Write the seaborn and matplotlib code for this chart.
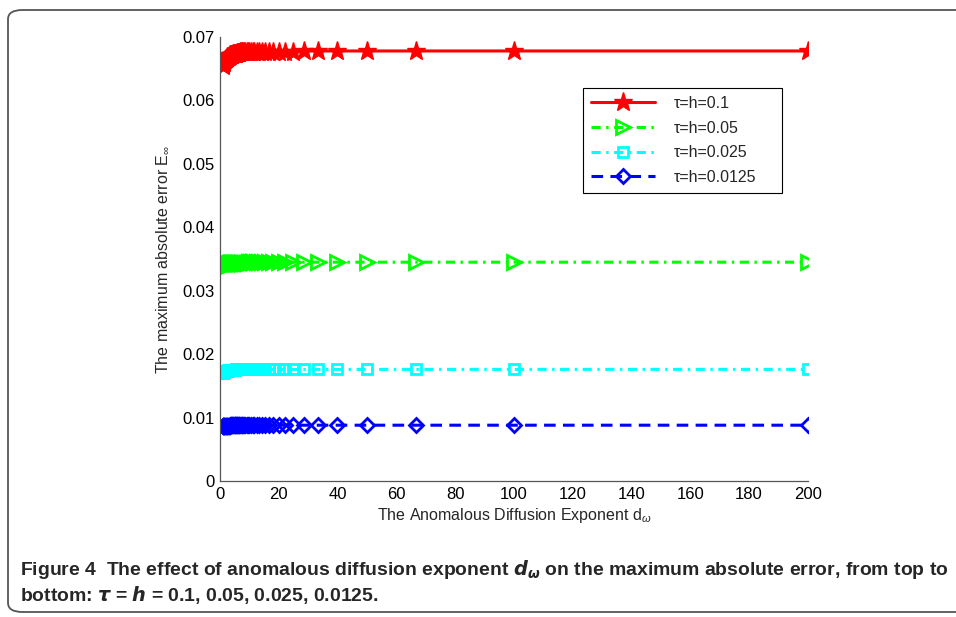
import matplotlib
matplotlib.use("Agg")
import matplotlib.pyplot as plt
import seaborn as sns
import pandas as pd
from matplotlib.patches import FancyBboxPatch

# ---------------- data ----------------
d_omega = [1.0, 1.05, 1.11, 1.18, 1.25, 1.33, 1.43, 1.54, 1.67, 1.82,
           2.0, 2.08, 2.17, 2.27, 2.38, 2.5, 2.63, 2.78, 2.94,
           3.13, 3.33, 3.45, 3.57, 3.70, 3.85,
           4.0, 4.17, 4.35, 4.55, 4.76,
           5.0, 5.13, 5.26, 5.41, 5.56, 5.71, 5.88,
           6.06, 6.25, 6.45, 6.67, 6.90,
           7.14, 7.41, 7.69,
           8.0, 8.33, 8.70,
           9.09, 9.52,
           10.0, 10.53, 11.11, 11.76, 12.5, 13.33, 14.29, 15.38, 16.67, 18.18,
           20.0, 22.22, 25.0, 28.57, 33.33, 40.0, 50.0, 66.67, 100.0, 200.0]

err_h0100 = [0.0655, 0.0656, 0.0657, 0.0658, 0.0659, 0.0660, 0.0661, 0.0662, 0.0663, 0.0664,
             0.0665, 0.0666, 0.0666, 0.0667, 0.0667, 0.0668, 0.0668, 0.0669, 0.0669,
             0.0670, 0.0670, 0.0671, 0.0671, 0.0671, 0.0672,
             0.0672, 0.0672, 0.0673, 0.0673, 0.0673,
             0.0674, 0.0674, 0.0674, 0.0674, 0.0674, 0.0675, 0.0675,
             0.0675, 0.0675, 0.0675, 0.0675, 0.0676,
             0.0676, 0.0676, 0.0676,
             0.0676, 0.0676, 0.0676,
             0.0677, 0.0677,
             0.0677, 0.0677, 0.0677, 0.0677, 0.0677, 0.0677, 0.0677, 0.0677, 0.0677, 0.0677,
             0.0677, 0.0677, 0.0677, 0.0678, 0.0678, 0.0678, 0.0678, 0.0678, 0.0678, 0.0678]

err_h0050 = [0.0336, 0.0336, 0.0337, 0.0337, 0.0337, 0.0338, 0.0338, 0.0338, 0.0339, 0.0339,
             0.0340, 0.0340, 0.0340, 0.0341, 0.0341, 0.0341, 0.0341, 0.0342, 0.0342,
             0.0342, 0.0342, 0.0342, 0.0343, 0.0343, 0.0343,
             0.0343, 0.0343, 0.0343, 0.0344, 0.0344,
             0.0344, 0.0344, 0.0344, 0.0344, 0.0344, 0.0344, 0.0344,
             0.0344, 0.0344, 0.0344, 0.0344, 0.0344,
             0.0344, 0.0344, 0.0344,
             0.0344, 0.0344, 0.0344,
             0.0344, 0.0344,
             0.0345, 0.0345, 0.0345, 0.0345, 0.0345, 0.0345, 0.0345, 0.0345, 0.0345, 0.0345,
             0.0345, 0.0345, 0.0345, 0.0345, 0.0345, 0.0345, 0.0345, 0.0345, 0.0345, 0.0345]

err_h0025 = [0.0171, 0.0171, 0.0171, 0.0172, 0.0172, 0.0172, 0.0172, 0.0173, 0.0173, 0.0173,
             0.0173, 0.0174, 0.0174, 0.0174, 0.0174, 0.0174, 0.0174, 0.0175, 0.0175,
             0.0175, 0.0175, 0.0175, 0.0175, 0.0175, 0.0175,
             0.0175, 0.0175, 0.0175, 0.0175, 0.0175,
             0.0175, 0.0175, 0.0175, 0.0176, 0.0176, 0.0176, 0.0176,
             0.0176, 0.0176, 0.0176, 0.0176, 0.0176,
             0.0176, 0.0176, 0.0176,
             0.0176, 0.0176, 0.0176,
             0.0176, 0.0176,
             0.0176, 0.0176, 0.0176, 0.0176, 0.0176, 0.0176, 0.0176, 0.0176, 0.0176, 0.0176,
             0.0176, 0.0176, 0.0176, 0.0176, 0.0176, 0.0176, 0.0176, 0.0176, 0.0176, 0.0176]

err_h00125 = [0.0086, 0.0086, 0.0086, 0.0086, 0.0086, 0.0087, 0.0087, 0.0087, 0.0087, 0.0087,
              0.0087, 0.0087, 0.0087, 0.0087, 0.0087, 0.0087, 0.0087, 0.0087, 0.0087,
              0.0087, 0.0087, 0.0087, 0.0088, 0.0088, 0.0088,
              0.0088, 0.0088, 0.0088, 0.0088, 0.0088,
              0.0088, 0.0088, 0.0088, 0.0088, 0.0088, 0.0088, 0.0088,
              0.0088, 0.0088, 0.0088, 0.0088, 0.0088,
              0.0088, 0.0088, 0.0088,
              0.0088, 0.0088, 0.0088,
              0.0088, 0.0088,
              0.0088, 0.0088, 0.0088, 0.0088, 0.0088, 0.0088, 0.0088, 0.0088, 0.0088, 0.0088,
              0.0088, 0.0088, 0.0088, 0.0088, 0.0088, 0.0088, 0.0088, 0.0088, 0.0088, 0.0088]

series_labels = ["τ=h=0.1", "τ=h=0.05", "τ=h=0.025", "τ=h=0.0125"]
x_ticks = [0, 20, 40, 60, 80, 100, 120, 140, 160, 180, 200]
y_ticks = [0, 0.01, 0.02, 0.03, 0.04, 0.05, 0.06, 0.07]
y_tick_labels = ["0", "0.01", "0.02", "0.03", "0.04", "0.05", "0.06", "0.07"]

# ---------------- style ----------------
sns.set_theme(style="white")
plt.rcParams['font.family'] = ['Liberation Sans', 'DejaVu Sans']
plt.rcParams['mathtext.fontset'] = 'custom'
plt.rcParams['mathtext.rm'] = 'Liberation Sans'
plt.rcParams['mathtext.it'] = 'Liberation Sans:italic'
plt.rcParams['mathtext.bf'] = 'Liberation Sans:bold'

fig = plt.figure(figsize=(9.56, 6.17), dpi=100)
ax = fig.add_axes([0.230, 0.2204, 0.615, 0.7196])

all_err = [err_h0100, err_h0050, err_h0025, err_h00125]
styles = [
    dict(color="#ff0000", linestyle="-", marker="*", markersize=14,
         markerfacecolor="#ff0000", markeredgecolor="#ff0000", markeredgewidth=1),
    dict(color="#00ff00", linestyle=(0, (3, 1.8, 0.8, 1.8)), marker=">", markersize=10,
         markerfacecolor="none", markeredgecolor="#00ff00", markeredgewidth=2),
    dict(color="#00ffff", linestyle=(0, (3, 1.8, 0.8, 1.8)), marker="s", markersize=7,
         markerfacecolor="none", markeredgecolor="#00ffff", markeredgewidth=2),
    dict(color="#0000ff", linestyle=(0, (3.8, 2.4)), marker="D", markersize=7,
         markerfacecolor="none", markeredgecolor="#0000ff", markeredgewidth=2),
]

for lab, err, st in zip(series_labels, all_err, styles):
    df = pd.DataFrame({"d": d_omega, "E": err})
    sns.lineplot(data=df, x="d", y="E", ax=ax, label=lab, estimator=None,
                 sort=True, linewidth=2.2, dash_capstyle="butt", **st)

ax.set_xlim(0, 200)
ax.set_ylim(0, 0.07)
ax.set_xticks(x_ticks)
ax.set_xticklabels([str(t) for t in x_ticks])
ax.set_yticks(y_ticks)
ax.set_yticklabels(y_tick_labels)
ax.tick_params(direction="in", length=5, width=0.8, colors="#000000",
               labelsize=12, pad=4)
for s in ["top", "right"]:
    ax.spines[s].set_visible(False)
for s in ["left", "bottom"]:
    ax.spines[s].set_color("#555555")
    ax.spines[s].set_linewidth(0.9)

ax.set_xlabel(r"The Anomalous Diffusion Exponent d$_{\omega}$", fontsize=11.5, labelpad=3)
ax.set_ylabel(r"The maximum absolute error E$_{\infty}$", fontsize=11.5, labelpad=8)

leg = ax.legend(loc="upper left", bbox_to_anchor=(0.617, 0.649, 0.339, 0.236),
                mode="expand", fontsize=11.5,
                frameon=True, fancybox=False, edgecolor="#000000", framealpha=1,
                handlelength=4.0, handletextpad=1.2, borderpad=0.5, labelspacing=0.6,
                borderaxespad=0)
leg.get_frame().set_linewidth(0.8)

# page frame (rounded)
frame = FancyBboxPatch((8 / 956, 5 / 617), 1.2, 1 - 15 / 617,
                       boxstyle="round,pad=0,rounding_size=0.015",
                       transform=fig.transFigure, fill=False,
                       edgecolor="#555555", linewidth=1.3, clip_on=False)
fig.patches.append(frame)

cap_kw = dict(fontsize=14.5, fontweight="bold", family=['Liberation Sans', 'DejaVu Sans'])
t1 = fig.text(20 / 956, 1 - 575 / 617,
              r"Figure 4  The effect of anomalous diffusion exponent $\mathbfit{d}_{\mathbfit{\omega}}$ on the maximum absolute error, from top to",
              ha="left", va="baseline", **cap_kw)
t2 = fig.text(20 / 956, 1 - 601 / 617,
              r"bottom: $\mathbfit{\tau}$ = $\mathbfit{h}$ = 0.1, 0.05, 0.025, 0.0125.",
              ha="left", va="baseline", **cap_kw)

# fit caption width to the page
fig.canvas.draw()
r = fig.canvas.get_renderer()
w = t1.get_window_extent(r).width
fs = 14.5 * 925.0 / w
t1.set_fontsize(fs)
t2.set_fontsize(fs)

fig.savefig("out.png", dpi=100)
